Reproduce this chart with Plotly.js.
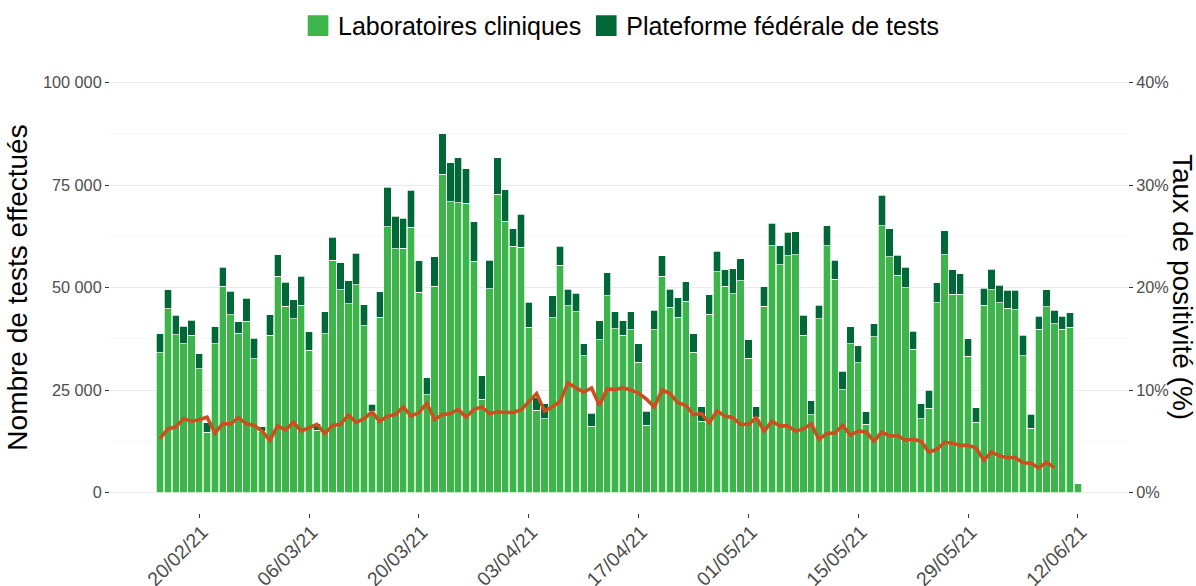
<!DOCTYPE html>
<html>
<head>
<meta charset="utf-8">
<script src="https://cdn.plot.ly/plotly-3.0.1.min.js"></script>
<style>html,body{margin:0;padding:0;background:#fff;}#chart{width:1196px;height:586px;}</style>
</head>
<body>
<div id="chart"></div>
<script>
// First day of the series and number of days (daily bars)
const startDate = "2021-02-15";
const nDays = 118;

// Laboratoires cliniques (tests per day)
const labo = [34100,44800,38500,36300,38300,30200,14700,36300,50300,43300,38900,41800,32600,15000,
  38300,52800,45400,42400,45700,34700,15200,38700,56700,49500,46000,50700,40700,19800,
  42800,64800,59400,59600,64700,48900,23800,50300,77600,70900,70700,70600,56400,22700,
  49700,72700,66200,60100,59800,40300,20100,18000,42600,55400,45600,44100,33300,16200,
  37300,48000,39900,38300,39700,31800,16400,39700,52800,45200,42800,46700,34200,17400,
  43500,53900,50300,48500,51600,32700,18400,45400,60200,55600,57700,58000,38400,19000,
  42400,60200,52000,25100,36300,31600,16600,38000,65100,57500,53000,49900,34900,18000,
  20500,46300,58000,48300,48300,33200,17100,45700,49400,46300,45000,44600,33400,15700,
  39800,45300,41100,39800,40300,2100];

// Plateforme fédérale de tests (tests per day)
const plateforme = [4600,4700,4700,4300,3700,3700,2300,4100,4700,5800,2700,5600,5000,1000,
  5100,5200,5900,4600,7100,4500,1600,5400,5500,6500,5600,7700,5100,1700,
  6200,9600,8000,7300,9000,7600,4200,7200,9900,9500,10900,8400,9600,5800,
  7000,8900,7600,4200,8100,6100,3000,3700,5400,4700,4000,4500,3000,3100,
  4600,5600,4200,3600,4400,4500,3400,4700,4900,4400,4700,4700,4500,3500,
  4700,4900,4000,6100,5400,4500,2500,4800,5500,4600,5800,5600,4800,3400,
  3300,4900,4600,4500,4100,4200,3100,3100,7400,6800,4900,5100,4400,3600,
  4400,4800,5800,6000,5000,4300,3600,4100,5000,4300,4300,4700,4900,3400,
  3200,4200,3400,3200,3500,0];

// Taux de positivité (%) — ends on 09/06/21
const positivite = [5.25,6.2,6.4,7.2,6.95,7.1,7.35,5.8,6.7,6.7,7.3,6.7,6.55,6.0,
  5.1,6.5,6.1,6.85,6.0,6.3,6.65,5.75,6.55,6.65,7.55,6.85,7.2,7.85,
  6.95,7.45,7.6,8.35,7.45,7.8,8.7,7.1,7.6,7.7,8.1,7.35,8.1,8.35,
  7.7,7.85,7.8,7.8,8.05,8.8,9.65,7.95,8.35,8.9,10.7,10.2,9.8,10.2,
  8.5,10.1,10.05,10.2,10.0,9.7,9.1,8.35,10.0,9.65,8.75,8.5,7.6,7.7,
  6.8,7.95,7.45,7.3,6.65,6.65,7.3,6.0,6.95,6.5,6.5,6.0,6.2,6.7,
  5.2,5.75,5.8,6.55,5.6,6.0,5.9,5.0,5.9,5.5,5.55,5.1,5.2,5.0,
  3.95,4.2,4.9,4.8,4.6,4.6,4.35,3.15,3.95,3.55,3.4,3.4,2.9,2.85,
  2.4,2.95,2.4];

// Axis ticks
const xTickVals = ["2021-02-20","2021-03-06","2021-03-20","2021-04-03","2021-04-17","2021-05-01","2021-05-15","2021-05-29","2021-06-12"];
const xTickText = ["20/02/21","06/03/21","20/03/21","03/04/21","17/04/21","01/05/21","15/05/21","29/05/21","12/06/21"];
const yTickVals = [0,25000,50000,75000,100000];
const yTickText = ["0","25 000","50 000","75 000","100 000"];
const y2TickVals = [0,10,20,30,40];
const y2TickText = ["0%","10%","20%","30%","40%"];

// Build the list of days
const dates = [];
{
  const d0 = new Date(startDate + "T00:00:00Z");
  for (let i = 0; i < nDays; i++) {
    const d = new Date(d0.getTime() + i * 86400000);
    dates.push(d.toISOString().slice(0, 10));
  }
}

const FAM = "Liberation Sans, Arial, sans-serif";
const yTickFont = {family: FAM, size: 16.3, color: "#4d4d4d"};
const xTickFont = {family: FAM, size: 19.5, color: "#4d4d4d"};

const traces = [
  {type: "bar", name: "Laboratoires cliniques", x: dates, y: labo,
   marker: {color: "#3db54a", line: {color: "#ffffff", width: 0.7}}, hoverinfo: "x+y"},
  {type: "bar", name: "Plateforme fédérale de tests", x: dates, y: plateforme,
   marker: {color: "#006837", line: {color: "#ffffff", width: 0.7}}, hoverinfo: "x+y"},
  {type: "scatter", mode: "lines", name: "Taux de positivité", x: dates.slice(0, positivite.length), y: positivite,
   yaxis: "y2", line: {color: "#cc4f1f", width: 3.6}, showlegend: false}
];

const layout = {
  width: 1196, height: 586,
  margin: {l: 110, r: 68, t: 62, b: 73, pad: 0, autoexpand: false},
  paper_bgcolor: "#ffffff", plot_bgcolor: "#ffffff",
  font: {family: FAM, color: "#4d4d4d"},
  barmode: "stack", bargap: 0.06,
  showlegend: true,
  legend: {orientation: "h", x: 0.1847, xanchor: "left", y: 1.08, yanchor: "middle",
           font: {size: 25, color: "#000000"}, traceorder: "normal", bgcolor: "rgba(0,0,0,0)"},
  xaxis: {type: "date", range: ["2021-02-08 15:00", "2021-06-18 09:00"],
          tickvals: xTickVals, ticktext: xTickText, tickangle: -45, tickfont: xTickFont,
          ticks: "outside", ticklen: 4, tickcolor: "#333333", tickwidth: 1,
          ticklabelstandoff: -5, ticklabelshift: 3,
          showgrid: false, zeroline: false, showline: false, fixedrange: true},
  yaxis: {range: [-5000, 105000], tickvals: yTickVals, ticktext: yTickText, tickfont: yTickFont,
          ticks: "outside", ticklen: 4, tickcolor: "#333333", tickwidth: 1,
          showgrid: true, gridcolor: "#ebebeb", gridwidth: 1, zeroline: false, showline: false,
          minor: {tickvals: [12500, 37500, 62500, 87500], showgrid: true, gridcolor: "#f2f2f2", gridwidth: 0.6, ticks: ""},
          title: {text: "Nombre de tests effectués", font: {size: 28, color: "#000000"}, standoff: 7}},
  yaxis2: {overlaying: "y", side: "right", range: [-2, 42], tickvals: y2TickVals, ticktext: y2TickText,
           tickfont: yTickFont, ticks: "outside", ticklen: 4, tickcolor: "#333333", tickwidth: 1,
           showgrid: false, zeroline: false, showline: false},
  annotations: [{text: "Taux de positivité (%)", xref: "paper", yref: "paper", x: 1.0535, y: 0.5,
                 xanchor: "center", yanchor: "middle", textangle: 90, showarrow: false,
                 font: {size: 28, color: "#000000"}}]
};

Plotly.newPlot("chart", traces, layout, {displayModeBar: false, staticPlot: true}).then(function (gd) {
  // enlarge the legend squares to match the reference key size (keep existing transform)
  gd.querySelectorAll(".legend .legendpoints path").forEach(function (p) {
    const t = p.getAttribute("transform") || "";
    p.setAttribute("transform", t + " scale(1.83)");
  });
});
</script>
</body>
</html>
